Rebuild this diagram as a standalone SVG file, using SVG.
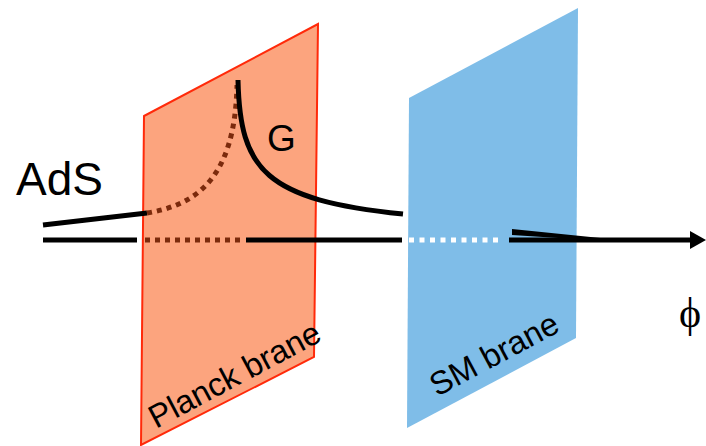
<svg xmlns="http://www.w3.org/2000/svg" width="706" height="446" viewBox="0 0 706 446">
<style>
.lbl{font-family:"Liberation Sans",Arial,sans-serif;fill:#000}
.solid{fill:none;stroke:#000;stroke-width:5}
.dotb{fill:none;stroke:#7B2A0C;stroke-width:5;stroke-dasharray:5 5}
.dotw{fill:none;stroke:#fff;stroke-width:5;stroke-dasharray:5 5.5}
</style>
<rect width="706" height="446" fill="#fff"/>
<g id="planck-brane">
<polygon points="144,116 318,24 314,357 141,445" fill="#FCA47E" stroke="#FF2A0A" stroke-width="2"/>
<text class="lbl" font-size="32.5" transform="translate(156,429) rotate(-28)">Planck brane</text>
</g>
<g id="sm-brane">
<polygon points="409,98 578,8 576,338 407,428" fill="#7FBDE8"/>
<text class="lbl" font-size="32.5" transform="translate(437,397) rotate(-28)">SM brane</text>
</g>
<g id="labels">
<text class="lbl" font-size="46" x="16" y="195">AdS</text>
<text class="lbl" font-size="37" x="267" y="151">G</text>
<text font-family="'Liberation Serif','Times New Roman',serif" font-size="42" x="690" y="327" text-anchor="middle">ϕ</text>
</g>
<g id="connectors">
<line class="solid" x1="43" y1="225" x2="147" y2="213"/>
<path class="dotb" d="M147,213 C195,205 235,180 237,85"/>
<path class="solid" d="M238,80 C240,170 265,200 403,214"/>
<line class="solid" x1="43" y1="240" x2="137" y2="240"/>
<line class="dotb" x1="145" y1="240" x2="240" y2="240"/>
<line class="solid" x1="246" y1="240" x2="402" y2="240"/>
<line class="dotw" x1="409" y1="240" x2="500" y2="240"/>
<line class="solid" x1="509" y1="240" x2="692" y2="240"/>
<polygon points="512,229 620,240 620,242 512,235" fill="#000"/>
<polygon points="690,231 706,240 690,249" fill="#000"/>
</g>
</svg>
